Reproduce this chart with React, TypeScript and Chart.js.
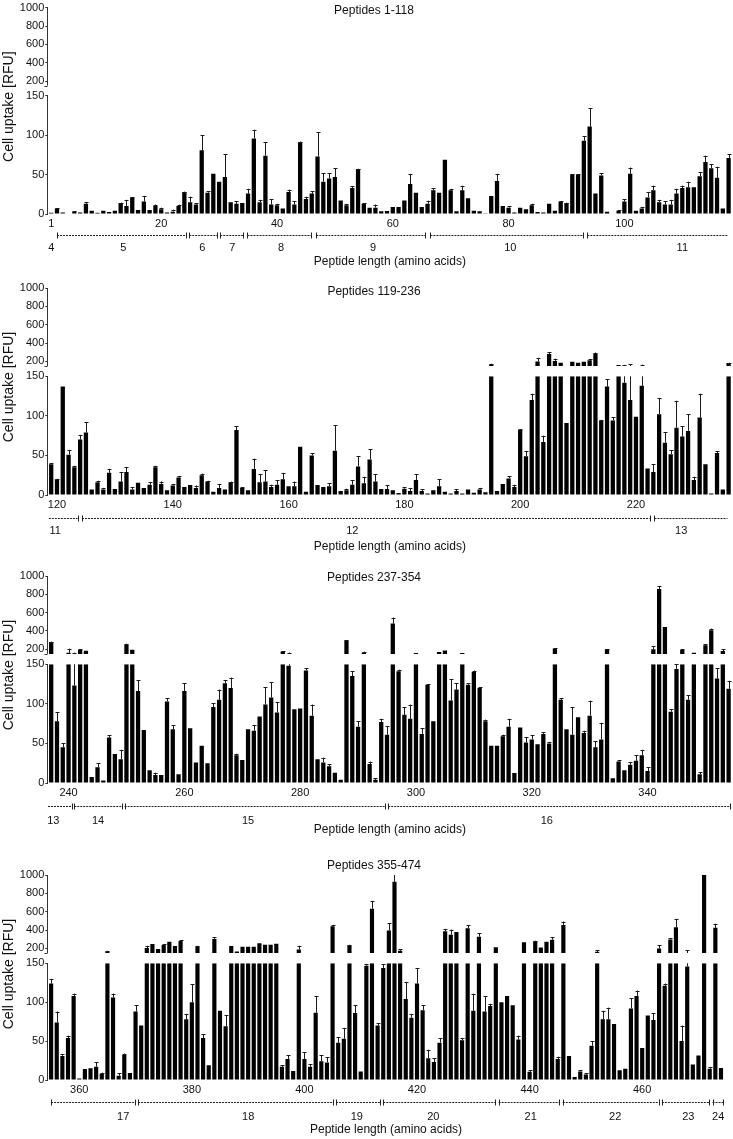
import React, { useEffect, useRef } from 'react';
import { Chart, registerables } from 'chart.js';

Chart.register(...registerables);

const FONT = '"Liberation Sans", Arial, Helvetica, sans-serif';
const BREAK = 150;
const TOP_MAX = 1000;
const lowerTicks = [0, 50, 100, 150];
const upperTicks = [200, 400, 600, 800, 1000];
const yTitle = 'Cell uptake [RFU]';
const xTitle = 'Peptide length (amino acids)';

// ---------- Panel 1: peptides 1-118 ----------
const panel1Values = [
  1.5, 7, 2, 0.5, 3, 2, 13, 4, 1.5, 4,
  2.5, 4, 14, 10, 21, 5, 16, 5, 10, 6,
  2, 3, 10, 28, 15, 12, 81, 27, 51, 41,
  47, 15, 13, 14, 26, 96, 15, 74, 12, 11,
  7, 28, 12, 91, 19, 26, 73, 41, 45, 47,
  17, 11, 33, 57, 13, 8, 8, 3.4, 3.8, 9,
  9, 17, 38, 27, 9, 13, 30, 27, 69, 30,
  3.4, 30, 20, 4, 3.4, 0.3, 23, 42, 10, 8,
  2, 8, 6, 11, 2.5, 2, 13, 4, 16, 14,
  50, 50, 93, 111, 26, 49, 3, 0.5, 4, 16,
  51, 4, 7, 21, 30, 15, 12, 12, 26, 33,
  34, 34, 48, 66, 58, 46, 7, 71,
];
const panel1Errors = [
  0, 0.5, 0, 0, 0.5, 0, 2, 0, 0, 0,
  0, 0, 0.5, 8, 0.5, 0, 7, 0, 2, 2,
  0, 2.5, 2, 0.5, 7, 2, 19, 2, 0, 0,
  29, 0, 3, 0, 6, 11, 3, 17, 7, 2,
  0, 3, 4, 1, 3, 3, 31, 11, 7, 11,
  0, 2, 2, 0.5, 1, 0, 4, 0, 0, 0,
  0, 0, 13, 0, 0, 4, 3, 0, 0, 2,
  0, 6, 0, 0, 0, 0, 0, 9, 0, 2,
  0, 0, 0, 2, 0, 0, 0, 0, 0.5, 0.5,
  0.5, 0.5, 6, 23, 0, 3, 0, 0, 1, 3,
  8, 0, 2, 7, 6, 3, 4, 6, 6, 3,
  7, 0, 5, 8, 5, 14, 0, 5,
];
const panel1Ticks = ['1', '20', '40', '60', '80', '100'];
const panel1Groups = [
  { label: '4', at: 1.0 },
  { label: '5', from: 2.0, to: 24.33, at: 13.45 },
  { label: '6', from: 24.85, to: 29.7, at: 27.1 },
  { label: '7', from: 30.2, to: 34.2, at: 32.3 },
  { label: '8', from: 34.9, to: 45.9, at: 40.7 },
  { label: '9', from: 46.8, to: 65.6, at: 56.6 },
  { label: '10', from: 66.5, to: 92.9, at: 80.3 },
  { label: '11', from: 93.6, to: 117.8, at: 110.0, openTo: true },
];

// ---------- Panel 2: peptides 119-236 ----------
const panel2Values = [
  39, 20, 137, 51, 35, 70, 79, 7, 16, 7,
  28, 7.5, 17, 29, 7, 15.5, 9, 13, 35, 14,
  6, 12, 22, 10, 12.5, 9, 25, 17, 4, 9,
  7, 16, 82, 9, 6, 33, 16, 17, 10, 13,
  20, 11, 11, 61, 4, 50, 12.5, 10, 11, 56,
  5, 6, 13, 36, 15, 45, 17, 7.5, 7.5, 6,
  2.5, 8, 5, 19, 5, 2, 6, 11, 4, 2,
  5, 2, 7, 3, 7, 3.5, 165, 5, 14, 21,
  10, 82, 49, 120, 200, 67, 280, 205, 186, 91,
  197, 186, 197, 212, 285, 94, 137, 94, 161, 142,
  120, 99, 138, 33.5, 29, 102, 66, 51.5, 85, 74,
  81, 19, 98, 39, 2, 53, 7, 183,
];
const panel2Errors = [
  1, 0.5, 0, 6, 2, 6, 13, 0, 2, 2,
  5, 0, 12, 6, 3, 0, 0, 3, 2, 3,
  0, 2, 2, 0, 0, 3, 2, 1, 0, 5,
  0, 1, 5, 1, 0, 13, 10, 14, 3, 6,
  8, 0, 6, 0, 0, 3, 0, 0, 4, 32,
  0, 2, 6, 13, 8, 13, 9, 0, 5, 0,
  0, 2, 4, 7, 2, 0, 0, 9, 0, 0,
  2, 0, 0, 0, 2, 0, 10, 0, 0, 3,
  3, 1, 6, 8, 40, 8, 20, 25, 0, 0,
  0, 0, 0, 15, 12, 1, 9, 4, 0, 20,
  52, 0, 27, 0, 10, 20, 13, 5, 34, 13,
  21, 4, 30, 0, 0, 2, 0, 3,
];
const panel2Ticks = ['120', '140', '160', '180', '200', '220'];
const panel2Groups = [
  { label: '11', from: 0.6, to: 5.56, at: 1.7, openFrom: true },
  { label: '12', from: 6.32, to: 104.35, at: 53.0 },
  { label: '13', from: 105.2, to: 117.8, at: 109.8, openTo: true },
];

// ---------- Panel 3: peptides 237-354 ----------
const panel3Values = [
  280, 78, 45, 162, 123, 193, 185, 7.5, 20, 3,
  57.5, 36.5, 30, 251, 196, 116, 67, 16, 10, 10,
  103, 68, 11, 116, 69, 26, 47, 25, 96, 105,
  126, 120, 35, 29, 68, 66, 84, 99, 108, 89,
  175, 148, 93, 94, 142, 85, 30, 26, 21, 13,
  4, 295, 135, 71, 166, 24, 4, 77, 61, 481,
  141, 86, 81, 160, 62, 124, 78, 170, 188, 104,
  118, 160, 124, 140, 120, 78, 47, 47, 59, 71,
  12.6, 70, 51, 55, 49, 62, 50, 210, 105, 68,
  61, 83, 63, 85, 45, 55, 200, 6, 27, 16,
  23, 28, 35, 15, 200, 857, 444, 90, 144, 193,
  105, 163, 11, 244, 408, 132, 181, 119,
];
const panel3Errors = [
  5, 11, 5, 45, 40, 5, 0, 0, 5, 0,
  2.5, 0, 12, 10, 0, 14, 0, 0, 3, 0,
  4, 5, 0, 10, 0, 0, 0, 0, 5, 13,
  4, 13, 2, 0, 0, 7, 0, 22, 19, 13,
  5, 17, 0, 0, 3, 14, 0, 6, 3, 0,
  0, 3, 6, 7, 9, 3, 2, 4, 11, 66,
  2, 10, 18, 0, 7, 1, 0, 0, 0, 27,
  8, 0, 2, 2, 1, 2, 0, 0, 2, 10,
  0, 0, 7, 5, 0, 2, 2, 3, 2, 0,
  35, 0, 3, 19, 8, 21, 3, 0, 2, 0,
  3, 7, 7, 5, 32, 36, 0, 3, 6, 10,
  6, 0, 3, 10, 18, 13, 20, 10,
];
const panel3Ticks = ['240', '260', '280', '300', '320', '340'];
const panel3Groups = [
  { label: '13', from: 0.45, to: 4.52, at: 1.36, openFrom: true },
  { label: '14', from: 4.99, to: 13.16, at: 9.1 },
  { label: '15', from: 13.68, to: 58.6, at: 35.0 },
  { label: '16', from: 59.2, to: 118.2, at: 86.6 },
];

// ---------- Panel 4: peptides 355-474 ----------
const panel4Values = [
  124, 74, 31, 54, 108, 2, 14, 15, 17, 8,
  165, 106, 5.5, 32, 9, 88, 70, 204, 248, 193,
  237, 273, 226, 281, 78, 100, 222, 54, 19, 303,
  89, 69, 226, 165, 218, 218, 218, 255, 240, 240,
  251, 17, 27, 11.5, 189, 27, 17, 86.5, 24, 22.5,
  442, 48, 53, 233, 86, 11, 147, 633, 70, 144,
  394, 926, 174, 104, 80, 124, 89.5, 28, 23, 48,
  387, 350, 380, 51, 420, 89, 328, 88, 95, 214,
  100, 108, 96, 52, 266, 10.6, 277, 211, 273, 295,
  27, 456, 31, 4, 11, 7, 44, 163, 78, 78,
  72, 12.4, 14.5, 92, 108, 41, 83, 77, 200, 121,
  298, 431, 50, 146, 20, 31.5, 1000, 14.5, 424, 15.3,
];
const panel4Errors = [
  6, 14, 2, 3, 3, 0, 0, 0, 6, 1.5,
  9, 5, 3, 2, 0, 8, 0, 25, 0, 0,
  10, 0, 0, 10, 7, 23, 7, 5, 0, 18,
  0, 14, 0, 0, 0, 0, 0, 0, 0, 0,
  0, 2, 5, 0, 40, 9, 3, 21, 8, 7,
  15, 7, 14, 7, 10, 0, 2, 84, 3, 5,
  80, 80, 15, 22, 5, 20, 7, 11, 5, 6,
  26, 55, 0, 3, 30, 22, 40, 20, 3, 0,
  0, 0, 0, 5, 0, 2, 7, 0, 0, 30,
  3, 37, 0, 0, 1.5, 1.5, 6, 18, 11, 15,
  0, 0, 0, 13, 7, 0, 0, 9, 37, 3,
  15, 91, 20, 35, 0, 0, 0, 2, 44, 0,
];
const panel4Ticks = ['360', '380', '400', '420', '440', '460'];
const panel4Groups = [
  { label: '17', from: 1.0, to: 15.9, at: 13.8 },
  { label: '18', from: 16.45, to: 51.0, at: 36.0 },
  { label: '19', from: 51.6, to: 59.4, at: 55.3 },
  { label: '20', from: 60.0, to: 79.9, at: 68.9 },
  { label: '21', from: 80.5, to: 91.3, at: 86.2 },
  { label: '22', from: 91.9, to: 108.9, at: 101.2 },
  { label: '23', from: 109.5, to: 117.9, at: 114.2 },
  { label: '24', from: 118.5, to: 120.4, at: 119.5 },
];

type Group = { label: string; from?: number; to?: number; at: number; openFrom?: boolean; openTo?: boolean };
type PanelCfg = {
  title: string;
  first: number;
  values: number[];
  errors: number[];
  ticks: string[];
  groups: Group[];
  chartTop: number;
  zero: number;
  padTop: number;
  rightPad: number;
  titleY: number;
  bracketDy: number;
  labelDy: number;
  xTitleDy: number;
};

const panels: PanelCfg[] = [
  { title: 'Peptides 1-118', first: 1, values: panel1Values, errors: panel1Errors, ticks: panel1Ticks, groups: panel1Groups,
    chartTop: 7.7, zero: 214.3, padTop: 7.7, rightPad: 1.5, titleY: 11, bracketDy: 20.7, labelDy: 34, xTitleDy: 47.4 },
  { title: 'Peptides 119-236', first: 119, values: panel2Values, errors: panel2Errors, ticks: panel2Ticks, groups: panel2Groups,
    chartTop: 288.3, zero: 495.3, padTop: 20, rightPad: 1.5, titleY: 292.3, bracketDy: 23, labelDy: 36.4, xTitleDy: 51.4 },
  { title: 'Peptides 237-354', first: 237, values: panel3Values, errors: panel3Errors, ticks: panel3Ticks, groups: panel3Groups,
    chartTop: 576, zero: 783.3, padTop: 20, rightPad: 1.5, titleY: 577.3, bracketDy: 23.4, labelDy: 38.4, xTitleDy: 46.7 },
  { title: 'Peptides 355-474', first: 355, values: panel4Values, errors: panel4Errors, ticks: panel4Ticks, groups: panel4Groups,
    chartTop: 875, zero: 1080, padTop: 20, rightPad: 9.2, titleY: 866, bracketDy: 22.3, labelDy: 36.7, xTitleDy: 50 },
];

const UPPER_H = 78; // px from 150 to 1000 on the upper segment
const GAP_H = 10.3; // px gap between the two segments
const AXIS_W = 48.3;
const X_AREA_H = 62;
const TEXT = '#111';

function decorPlugin(cfg: PanelCfg) {
  return {
    id: 'decor',
    afterDatasetsDraw(chart: any) {
      const ctx = chart.ctx as CanvasRenderingContext2D;
      const xs = chart.scales.x;
      const lo = chart.scales.yLower;
      const up = chart.scales.yUpper;
      ctx.save();
      ctx.strokeStyle = '#1a1a1a';
      ctx.lineWidth = 1;
      cfg.values.forEach((v, i) => {
        const e = cfg.errors[i];
        if (!e) return;
        const px = Math.round(xs.getPixelForValue(i)) + 0.5;
        const tRaw = v + e;
        const t = Math.min(tRaw, TOP_MAX);
        ctx.beginPath();
        if (v < BREAK) {
          ctx.moveTo(px, lo.getPixelForValue(v));
          ctx.lineTo(px, lo.getPixelForValue(Math.min(t, BREAK)));
          if (t > BREAK) {
            ctx.moveTo(px, up.getPixelForValue(BREAK));
            ctx.lineTo(px, up.getPixelForValue(t));
          }
        } else {
          ctx.moveTo(px, up.getPixelForValue(v));
          ctx.lineTo(px, up.getPixelForValue(t));
        }
        if (tRaw <= TOP_MAX) {
          const ty = Math.round(t > BREAK ? up.getPixelForValue(t) : lo.getPixelForValue(t)) + 0.5;
          ctx.moveTo(px - 2, ty);
          ctx.lineTo(px + 2, ty);
        }
        ctx.stroke();
      });
      ctx.restore();
    },
    afterDraw(chart: any) {
      const ctx = chart.ctx as CanvasRenderingContext2D;
      const xs = chart.scales.x;
      const lo = chart.scales.yLower;
      const up = chart.scales.yUpper;
      const area = chart.chartArea;
      const zero = lo.getPixelForValue(0);
      ctx.save();
      // y axis line with break
      const ax = Math.round(area.left) - 0.5;
      ctx.strokeStyle = '#333';
      ctx.lineWidth = 1;
      ctx.beginPath();
      ctx.moveTo(ax, up.getPixelForValue(TOP_MAX));
      ctx.lineTo(ax, up.getPixelForValue(BREAK));
      ctx.moveTo(ax - 3, Math.round(up.getPixelForValue(BREAK)) + 0.5);
      ctx.lineTo(ax, Math.round(up.getPixelForValue(BREAK)) + 0.5);
      ctx.moveTo(ax, lo.getPixelForValue(BREAK));
      ctx.lineTo(ax, lo.getPixelForValue(0));
      ctx.stroke();

      ctx.fillStyle = TEXT;
      // panel title
      ctx.font = `12px ${FONT}`;
      ctx.textAlign = 'center';
      ctx.textBaseline = 'middle';
      const canvasTop = cfg.chartTop - cfg.padTop;
      ctx.fillText(cfg.title, 374, cfg.titleY - canvasTop);

      // y title
      ctx.save();
      ctx.font = `14px ${FONT}`;
      ctx.translate(9.5, area.top + 99);
      ctx.rotate(-Math.PI / 2);
      ctx.fillText(yTitle, 0, 0);
      ctx.restore();

      // length brackets
      const yb = Math.round(zero + cfg.bracketDy) + 0.5;
      ctx.strokeStyle = '#222';
      cfg.groups.forEach((g) => {
        if (g.from !== undefined && g.to !== undefined) {
          const x1 = xs.getPixelForValue(g.from - 1);
          const x2 = xs.getPixelForValue(g.to - 1);
          ctx.setLineDash([2, 1]);
          ctx.beginPath();
          ctx.moveTo(x1, yb);
          ctx.lineTo(x2, yb);
          ctx.stroke();
          ctx.setLineDash([]);
          ctx.beginPath();
          if (!g.openFrom) {
            const xx = Math.round(x1) + 0.5;
            ctx.moveTo(xx, yb - 3);
            ctx.lineTo(xx, yb + 3);
          }
          if (!g.openTo) {
            const xx = Math.round(x2) + 0.5;
            ctx.moveTo(xx, yb - 3);
            ctx.lineTo(xx, yb + 3);
          }
          ctx.stroke();
        }
      });
      ctx.font = `11px ${FONT}`;
      cfg.groups.forEach((g) => {
        ctx.fillText(g.label, xs.getPixelForValue(g.at - 1), zero + cfg.labelDy);
      });

      // x title
      ctx.font = `12px ${FONT}`;
      ctx.fillText(xTitle, (area.left + area.right) / 2, zero + cfg.xTitleDy);
      ctx.restore();
    },
  };
}

function Panel({ cfg }: { cfg: PanelCfg }) {
  const ref = useRef<HTMLCanvasElement>(null);
  const chartH = cfg.zero - cfg.chartTop;
  const lowerH = chartH - UPPER_H - GAP_H;
  const H = Math.round(cfg.padTop + chartH + X_AREA_H);
  const top = cfg.chartTop - cfg.padTop;

  useEffect(() => {
    if (!ref.current) return;
    const labels = cfg.values.map((_, i) => String(cfg.first + i));
    const lowerData = cfg.values.map((v) => Math.min(v, BREAK));
    const upperData = cfg.values.map((v) => (v > BREAK ? Math.min(v, TOP_MAX) : null));
    const gapUnits = (GAP_H * (TOP_MAX - BREAK)) / UPPER_H;
    const fixWidth = (s: any) => {
      s.width = AXIS_W;
    };
    const yTickOpts = {
      padding: 1,
      color: TEXT,
      autoSkip: false,
      font: { family: FONT, size: 11 },
      callback: (v: any) => String(v),
    };
    const chart = new Chart(ref.current, {
      type: 'bar',
      data: {
        labels,
        datasets: [
          {
            data: lowerData,
            yAxisID: 'yLower',
            backgroundColor: '#000',
            borderWidth: 0,
            grouped: false,
            categoryPercentage: 1,
            barPercentage: 0.74,
          } as any,
          {
            data: upperData,
            yAxisID: 'yUpper',
            base: BREAK,
            backgroundColor: '#000',
            borderWidth: 0,
            grouped: false,
            categoryPercentage: 1,
            barPercentage: 0.74,
          } as any,
        ],
      },
      options: {
        animation: false,
        responsive: false,
        maintainAspectRatio: false,
        devicePixelRatio: 1,
        events: [],
        layout: { padding: { top: cfg.padTop, right: cfg.rightPad, left: 0, bottom: 0 } },
        plugins: { legend: { display: false }, tooltip: { enabled: false }, title: { display: false } },
        scales: {
          x: {
            type: 'category',
            offset: true,
            grid: { display: false, drawTicks: false },
            border: { display: false },
            ticks: {
              autoSkip: false,
              maxRotation: 0,
              minRotation: 0,
              padding: 3,
              color: TEXT,
              font: { family: FONT, size: 11 },
              callback: (_v: any, i: number) => (cfg.ticks.includes(labels[i]) ? labels[i] : ''),
            },
            afterFit: (s: any) => {
              s.height = X_AREA_H;
            },
          },
          yLower: {
            type: 'linear',
            position: 'left',
            stack: 'y',
            stackWeight: lowerH,
            min: 0,
            max: BREAK,
            afterBuildTicks: (s: any) => {
              s.ticks = lowerTicks.map((v) => ({ value: v }));
            },
            grid: { drawOnChartArea: false, drawTicks: true, tickLength: 3, color: '#333' },
            border: { display: false },
            ticks: yTickOpts,
            afterFit: fixWidth,
          },
          yUpper: {
            type: 'linear',
            position: 'left',
            stack: 'y',
            stackWeight: UPPER_H + GAP_H,
            min: BREAK - gapUnits,
            max: TOP_MAX,
            afterBuildTicks: (s: any) => {
              s.ticks = upperTicks.map((v) => ({ value: v }));
            },
            grid: { drawOnChartArea: false, drawTicks: true, tickLength: 3, color: '#333' },
            border: { display: false },
            ticks: yTickOpts,
            afterFit: fixWidth,
          },
        } as any,
      },
      plugins: [decorPlugin(cfg) as any],
    });
    return () => chart.destroy();
  }, [cfg]);

  return (
    <canvas
      ref={ref}
      width={733}
      height={H}
      style={{ position: 'absolute', left: 0, top, width: 733, height: H, display: 'block' }}
    />
  );
}

export default function App() {
  return (
    <div style={{ position: 'absolute', left: 0, top: 0, width: 733, height: 1139, overflow: 'hidden', background: '#fff' }}>
      {panels.map((p) => (
        <Panel key={p.title} cfg={p} />
      ))}
    </div>
  );
}
